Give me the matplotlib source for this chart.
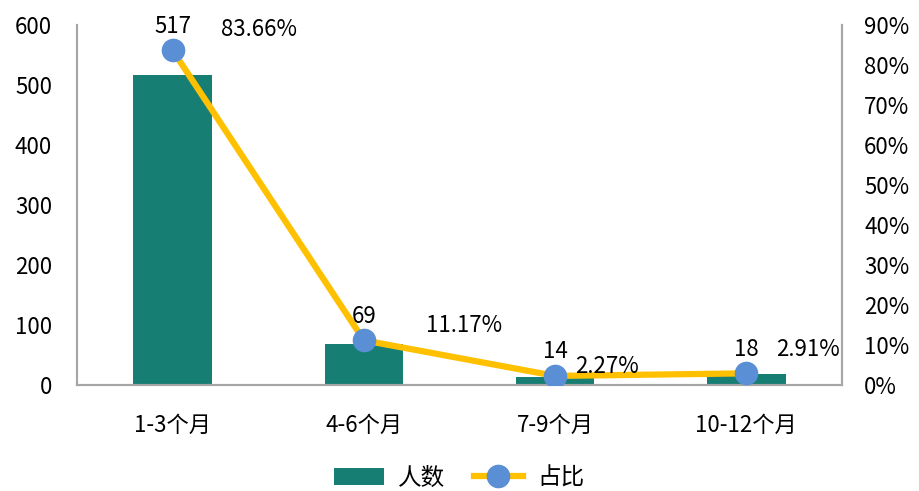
import numpy as np
import matplotlib.pyplot as plt
from matplotlib.ticker import PercentFormatter

plt.rcParams['font.family'] = ['Noto Sans CJK SC', 'DejaVu Sans']

# data
categories = ['1-3个月', '4-6个月', '7-9个月', '10-12个月']
counts = [517, 69, 14, 18]
shares = [83.66, 11.17, 2.27, 2.91]
share_labels = ['83.66%', '11.17%', '2.27%', '2.91%']

# label offsets (points) for the percent labels
pct_offsets = [(62, 15), (72, 11), (37, 7), (44, 17)]

bar_color = '#177E74'
line_color = '#FFC000'
marker_color = '#5A8FD5'
spine_color = '#A6A6A6'
fs = 16

fig = plt.figure(figsize=(9.19, 4.91), dpi=100)
ax = fig.add_axes([77 / 919, 1 - 385 / 491, (842 - 77) / 919, (385 - 25) / 491])
x = np.arange(len(categories))

bars = ax.bar(x, counts, width=0.41, color=bar_color, label='人数', zorder=1)
ax.set_ylim(0, 600)
ax.set_yticks(range(0, 601, 100))
ax.set_xlim(-0.5, len(categories) - 0.5)
ax.set_xticks(x)
ax.set_xticklabels(categories, fontsize=fs)

ax2 = ax.twinx()
line, = ax2.plot(x, shares, color=line_color, lw=4.5, marker='o', ms=16,
                 mfc=marker_color, mec=marker_color, label='占比', zorder=3)
ax2.set_ylim(0, 90)
ax2.set_yticks(range(0, 91, 10))
ax2.yaxis.set_major_formatter(PercentFormatter(decimals=0))

for a in (ax, ax2):
    for s in a.spines.values():
        s.set_color(spine_color)
        s.set_linewidth(1.5)
    a.spines['top'].set_visible(False)
    a.tick_params(length=0, labelsize=fs)
ax.tick_params(axis='y', pad=18)
ax.tick_params(axis='x', pad=21)
ax2.tick_params(axis='y', pad=16)

# labels
for xi, c, s in zip(x, counts, shares):
    ax2.annotate(str(c), (xi, s), xytext=(0, 9), textcoords='offset points',
                 ha='center', va='bottom', fontsize=fs, zorder=5)
for xi, s, lab, off in zip(x, shares, share_labels, pct_offsets):
    ax2.annotate(lab, (xi, s), xytext=off, textcoords='offset points',
                 ha='center', va='center', fontsize=fs, zorder=5)

fig.legend([bars, line], ['人数', '占比'], loc='center', bbox_to_anchor=(0.5, 1 - 478 / 491),
           ncol=2, frameon=False, fontsize=17, handlelength=2.1, handletextpad=0.6,
           columnspacing=1.2)

plt.savefig('out.png')
